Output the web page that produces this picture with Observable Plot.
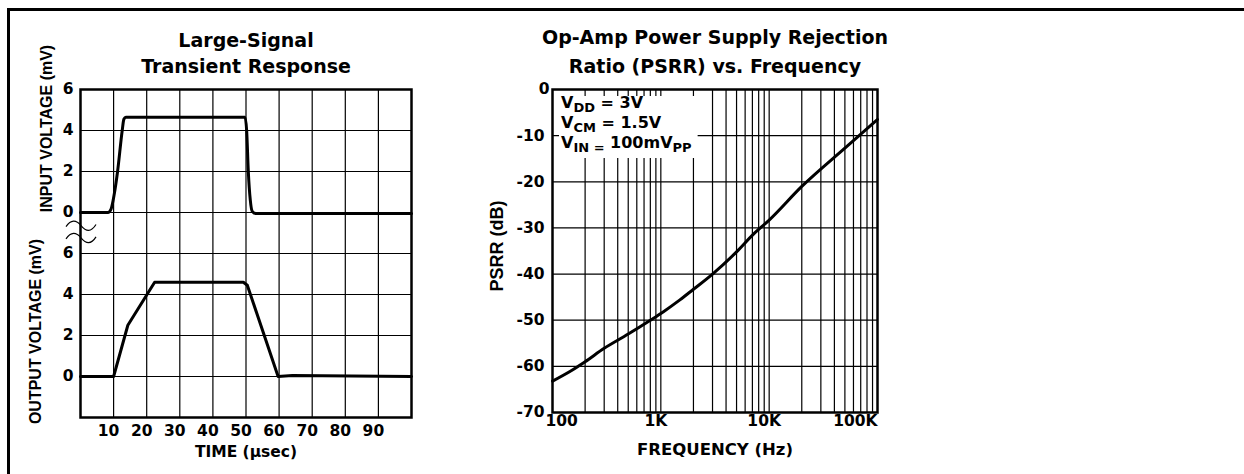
<!DOCTYPE html>
<html><head><meta charset="utf-8">
<script src="https://cdn.jsdelivr.net/npm/d3@7"></script>
<script src="https://cdn.jsdelivr.net/npm/@observablehq/plot@0.6"></script>
<style>
html,body{margin:0;padding:0;background:#fff;}
#page{position:relative;width:1244px;height:474px;overflow:hidden;background:#fff;}
#border{position:absolute;left:7px;top:8px;width:1300px;height:600px;border-top:3px solid #000;border-left:3px solid #000;}
#left,#right{position:absolute;top:0;}
#left{left:0;}
#right{left:470px;}
svg{display:block;}
</style></head><body>
<div id="page"><div id="border"></div><div id="left"></div><div id="right"></div></div>
<script>
// ---------- Left chart data: Large-Signal Transient Response ----------
const leftTitle = ["Large-Signal", "Transient Response"];
const timeTicks = [10, 20, 30, 40, 50, 60, 70, 80, 90];
const inputTicks = [0, 2, 4, 6];
const outputTicks = [0, 2, 4, 6];
const inputTime = [0, 8.3, 9.2, 10.2, 11.2, 12.6, 13.1, 13.7, 49.7, 50.2, 50.7, 51.3, 51.9, 53, 100];
const inputMv   = [0, 0, 0.15, 0.9, 2.0, 4.0, 4.55, 4.65, 4.65, 4.0, 2.0, 0.6, 0.05, -0.05, -0.05];
const outputTime = [0, 10, 14.3, 22.4, 49.2, 50.4, 59.7, 64, 100];
const outputMv   = [0, 0, 2.5, 4.6, 4.6, 4.45, 0, 0.05, 0];

// ---------- Right chart data: PSRR vs Frequency ----------
const rightTitle = ["Op-Amp Power Supply Rejection", "Ratio (PSRR) vs. Frequency"];
const freqHz = [100, 150, 200, 300, 500, 800, 1050, 1500, 2000, 3000, 5000, 7200, 10000, 20000, 50000, 100000];
const psrrDb = [-63.2, -60.9, -59, -56.1, -53, -50, -48.2, -45.6, -43.3, -40, -35.2, -31.3, -28.3, -21.0, -12.7, -6.5];
const freqGrid = [200, 300, 400, 500, 600, 700, 800, 900, 1000,
                  2000, 3000, 4000, 5000, 6000, 7000, 8000, 9000, 10000,
                  20000, 30000, 40000, 50000, 60000, 70000, 80000, 90000];
const freqTickValues = [100, 1000, 10000, 100000];
const freqTickLabels = ["100", "1K", "10K", "100K"];
const psrrTicks = [0, -10, -20, -30, -40, -50, -60, -70];
const conditions = [["V", "DD", " = 3V", ""], ["V", "CM", " = 1.5V", ""], ["V", "IN =", " 100mV", "PP"]];

const NS = "http://www.w3.org/2000/svg";
const WIDE = "DejaVu Sans";
const NARROW = "Liberation Sans, Arial";
const K = "#000";

// Input occupies rows 5..8, output rows 1..4 (one row per 2 mV) on a shared scale
const inRow = v => v / 2 + 5;
const outRow = v => (v + 2) / 2;

const inputData = inputTime.map((t, i) => ({t, v: inputMv[i]}));
const outputData = outputTime.map((t, i) => ({t, v: outputMv[i]}));

function breakMarks(index, scales) {
  const g = document.createElementNS(NS, "g");
  const x0 = scales.x(0);
  const yA = scales.y(inRow(0)), yB = scales.y(outRow(6));
  for (const f of [0.33, 0.63]) {
    const yc = yA + (yB - yA) * f;
    const p = document.createElementNS(NS, "path");
    p.setAttribute("d", `M${x0 - 14},${yc + 1} c5,-7 10,-7 15,-1 s10,7 15,-1`);
    p.setAttribute("fill", "none");
    p.setAttribute("stroke", K);
    p.setAttribute("stroke-width", "1.2");
    g.appendChild(p);
  }
  return g;
}

const left = Plot.plot({
  width: 440, height: 474,
  marginLeft: 80, marginRight: 29, marginTop: 89, marginBottom: 57,
  x: {domain: [0, 100], axis: null},
  y: {domain: [0, 8], axis: null},
  style: {fontFamily: WIDE, fontWeight: "bold", color: K, background: "transparent", overflow: "visible"},
  marks: [
    Plot.ruleX(timeTicks, {x: d => d, stroke: K, strokeWidth: 1.2}),
    Plot.ruleY(inputTicks, {y: inRow, stroke: K, strokeWidth: 1.2}),
    Plot.ruleY(outputTicks, {y: outRow, stroke: K, strokeWidth: 1.2}),
    Plot.line(inputData, {x: "t", y: d => inRow(d.v), stroke: K, strokeWidth: 3, curve: "monotone-x"}),
    Plot.line(outputData, {x: "t", y: d => outRow(d.v), stroke: K, strokeWidth: 3, strokeLinejoin: "round"}),
    Plot.frame({stroke: K, strokeWidth: 2.5}),
    breakMarks,
    Plot.text(inputTicks, {y: inRow, text: d => String(d), frameAnchor: "left", textAnchor: "end", dx: -7, fontSize: 15.5}),
    Plot.text(outputTicks, {y: outRow, text: d => String(d), frameAnchor: "left", textAnchor: "end", dx: -7, fontSize: 15.5}),
    Plot.text(timeTicks, {x: d => d, text: d => String(d), frameAnchor: "bottom", dy: 18, dx: -5, fontSize: 15.5}),
    Plot.text(["TIME (µsec)"], {text: d => d, frameAnchor: "bottom", dy: 39, fontSize: 15.5}),
    Plot.text(["INPUT VOLTAGE (mV)"], {text: d => d, frameAnchor: "top-left", textAnchor: "middle", dx: -40, dy: 39, rotate: -90, fontFamily: NARROW, fontSize: 16}),
    Plot.text(["OUTPUT VOLTAGE (mV)"], {text: d => d, frameAnchor: "bottom-left", textAnchor: "middle", dx: -40, dy: -86, rotate: -90, fontFamily: NARROW, fontSize: 16}),
    Plot.text([leftTitle[0]], {text: d => d, frameAnchor: "top", dy: -56, fontSize: 19}),
    Plot.text([leftTitle[1]], {text: d => d, frameAnchor: "top", dy: -30, fontSize: 19})
  ]
});
document.getElementById("left").appendChild(left);

const psrrData = freqHz.map((f, i) => ({f, db: psrrDb[i]}));

const right = Plot.plot({
  width: 430, height: 474,
  marginLeft: 82, marginRight: 23, marginTop: 89, marginBottom: 62,
  x: {type: "log", domain: [100, 100000], axis: null},
  y: {domain: [-70, 0], axis: null},
  style: {fontFamily: WIDE, fontWeight: "bold", color: K, background: "transparent", overflow: "visible"},
  marks: [
    Plot.ruleX(freqGrid, {x: d => d, stroke: K, strokeWidth: 1.2}),
    Plot.ruleY(psrrTicks, {y: d => d, stroke: K, strokeWidth: 1.2}),
    Plot.line(psrrData, {x: "f", y: "db", stroke: K, strokeWidth: 3, curve: "monotone-x"}),
    Plot.frame({stroke: K, strokeWidth: 2.5}),
    Plot.text(psrrTicks.filter(d => d !== 0), {y: d => d, text: d => String(d), frameAnchor: "left", textAnchor: "end", dx: -8, fontSize: 15.5}),
    Plot.text(psrrTicks.filter(d => d === 0), {y: d => d, text: d => String(d), frameAnchor: "left", textAnchor: "end", dx: -3, fontSize: 15.5}),
    Plot.text([0], {x: i => freqTickValues[i], text: i => freqTickLabels[i], frameAnchor: "bottom", dy: 13, dx: -7, textAnchor: "start", fontSize: 15.5}),
    Plot.text([1, 2], {x: i => freqTickValues[i], text: i => freqTickLabels[i], frameAnchor: "bottom", dy: 13, dx: -5, textAnchor: "middle", fontSize: 15.5}),
    Plot.text([3], {x: i => freqTickValues[i], text: i => freqTickLabels[i], frameAnchor: "bottom", dy: 13, dx: 0, textAnchor: "end", fontSize: 15.5}),
    Plot.text(["FREQUENCY (Hz)"], {text: d => d, frameAnchor: "bottom", dy: 42, fontSize: 16.5}),
    Plot.text(["PSRR (dB)"], {text: d => d, frameAnchor: "left", textAnchor: "middle", dx: -55, dy: -5, rotate: -90, fontFamily: NARROW, fontSize: 18}),
    Plot.text([rightTitle[0]], {text: d => d, frameAnchor: "top", dy: -59, fontSize: 19}),
    Plot.text([rightTitle[1]], {text: d => d, frameAnchor: "top", dy: -30, fontSize: 19})
  ]
});
document.getElementById("right").appendChild(right);

// Conditions box (text with subscripts) in the top-left corner of the PSRR frame
(function () {
  const ml = 82, mt = 89;
  const g = document.createElementNS(NS, "g");
  g.setAttribute("font-family", WIDE);
  g.setAttribute("font-weight", "bold");
  g.setAttribute("font-size", "16");
  g.setAttribute("text-anchor", "start");
  g.setAttribute("fill", K);
  conditions.forEach((parts, i) => {
    const t = document.createElementNS(NS, "text");
    t.setAttribute("x", ml + 9);
    t.setAttribute("y", mt + 19 + i * 20);
    t.setAttribute("text-anchor", "start");
    t.setAttribute("style", "white-space:pre");
    const [a, sub1, b, sub2] = parts;
    const s0 = document.createElementNS(NS, "tspan"); s0.textContent = a; t.appendChild(s0);
    const s1 = document.createElementNS(NS, "tspan"); s1.textContent = sub1; s1.setAttribute("font-size", "13"); s1.setAttribute("dy", "4"); t.appendChild(s1);
    const s2 = document.createElementNS(NS, "tspan"); s2.textContent = b; s2.setAttribute("dy", "-4"); t.appendChild(s2);
    if (sub2) {
      const s3 = document.createElementNS(NS, "tspan"); s3.textContent = sub2; s3.setAttribute("font-size", "13"); s3.setAttribute("dy", "4"); t.appendChild(s3);
    }
    g.appendChild(t);
  });
  right.appendChild(g);
  const bb = g.getBBox();
  const r = document.createElementNS(NS, "rect");
  const top = mt + 7;
  r.setAttribute("x", bb.x - 2);
  r.setAttribute("y", top);
  r.setAttribute("width", bb.width + 8);
  r.setAttribute("height", bb.y + bb.height + 3 - top);
  r.setAttribute("fill", "#fff");
  right.insertBefore(r, g);
})();
</script>
</body></html>
